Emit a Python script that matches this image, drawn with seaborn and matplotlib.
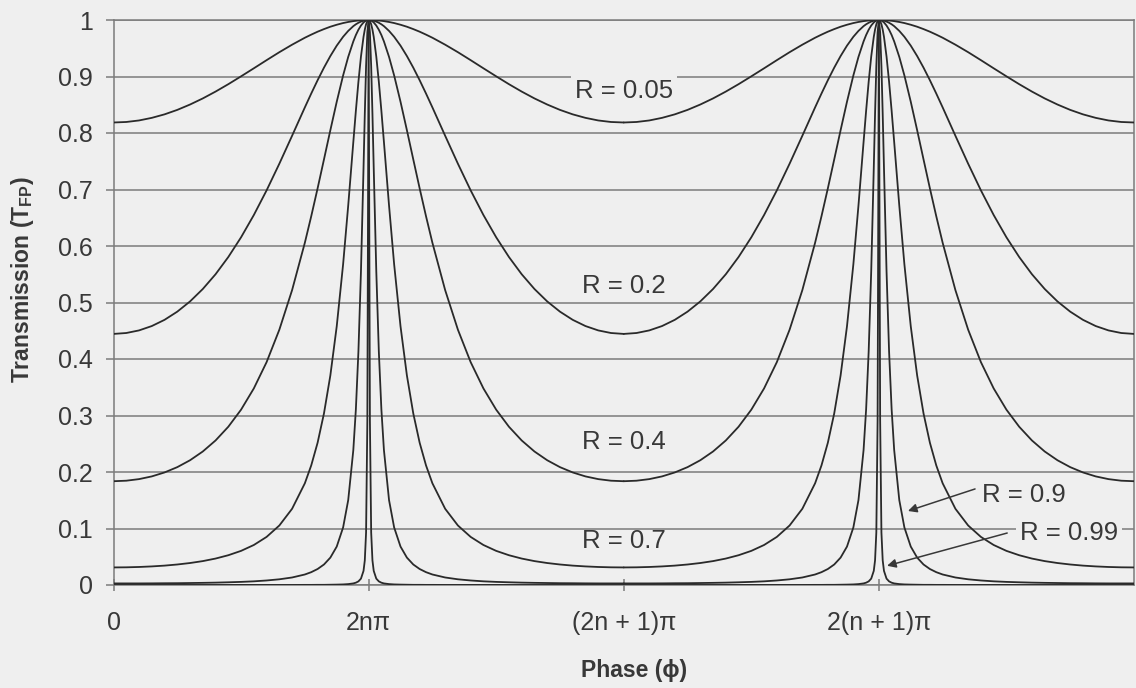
import numpy as np
import pandas as pd
import matplotlib
matplotlib.use("Agg")
import matplotlib.pyplot as plt
import seaborn as sns

# ---------------- data ----------------
# phase offset from the nearest transmission peak, in units of pi
PHASE_OFFSET = [0, 0.005, 0.01, 0.015, 0.02, 0.03, 0.04, 0.05, 0.06, 0.08, 0.1,
                0.125, 0.15, 0.175, 0.2, 0.225, 0.25, 0.3, 0.35, 0.4, 0.45, 0.5,
                0.55, 0.6, 0.65, 0.7, 0.75, 0.8, 0.85, 0.9, 0.95, 1.0]
# transmission values at those offsets (one half-period; curves are symmetric)
T_R005 = [1.000, 1.000, 1.000, 1.000, 1.000, 0.9995, 0.9991, 0.9986, 0.998,
          0.9965, 0.9946, 0.9916, 0.9881, 0.9839, 0.9793, 0.9741, 0.9686,
          0.9563, 0.943, 0.9289, 0.9145, 0.9003, 0.8864, 0.8733, 0.8612,
          0.8504, 0.8409, 0.833, 0.8268, 0.8222, 0.8195, 0.8186]
T_R02 = [1.000, 0.9999, 0.9997, 0.9993, 0.9988, 0.9972, 0.9951, 0.9924, 0.9891,
         0.9807, 0.9703, 0.9546, 0.9362, 0.9157, 0.8934, 0.8698, 0.8453,
         0.7951, 0.7456, 0.6984, 0.6548, 0.6154, 0.5805, 0.55, 0.5239, 0.5019,
         0.4838, 0.4693, 0.4583, 0.4506, 0.446, 0.4444]
T_R04 = [1.000, 0.9997, 0.9989, 0.9975, 0.9956, 0.9902, 0.9828, 0.9734, 0.9621,
         0.9347, 0.9019, 0.8553, 0.805, 0.7533, 0.702, 0.6526, 0.6057, 0.5219,
         0.4518, 0.3944, 0.3479, 0.3103, 0.2801, 0.2558, 0.2363, 0.2208,
         0.2086, 0.1992, 0.1922, 0.1874, 0.1846, 0.1837]
T_R07 = [1.000, 0.9981, 0.9924, 0.983, 0.9702, 0.9354, 0.8907, 0.8393, 0.784,
         0.6717, 0.5677, 0.4579, 0.371, 0.3037, 0.2518, 0.2116, 0.18, 0.1349,
         0.1053, 0.0851, 0.0708, 0.0604, 0.0527, 0.0468, 0.0423, 0.0389,
         0.0363, 0.0343, 0.0329, 0.0319, 0.0313, 0.0311]
T_R09 = [1.000, 0.9783, 0.9184, 0.8334, 0.7379, 0.5559, 0.4133, 0.3109, 0.2388,
         0.1503, 0.1019, 0.068, 0.0485, 0.0363, 0.0283, 0.0227, 0.0186, 0.0133,
         0.0101, 0.008, 0.0065, 0.0055, 0.0048, 0.0042, 0.0038, 0.0035, 0.0032,
         0.0031, 0.0029, 0.0028, 0.0028, 0.0028]
T_R099 = [1.000, 0.2905, 0.0929, 0.0435, 0.025, 0.0113, 0.0064, 0.0041, 0.0028,
          0.0016, 0.001, 0.0007, 0.0005, 0.0003, 0.0003, 0.0002, 0.0002, 0.0001,
          0.0001, 0.0001, 0.0001, 0.0001, 0.0, 0.0, 0.0, 0.0, 0.0, 0.0, 0.0,
          0.0, 0.0, 0.0]

R_LABELS = ["R = 0.05", "R = 0.2", "R = 0.4", "R = 0.7", "R = 0.9", "R = 0.99"]
CURVES = [T_R005, T_R02, T_R04, T_R07, T_R09, T_R099]

PEAK_POSITIONS = [1, 3]          # 2nπ and 2(n+1)π, in units of π
X_TICKS = [0, 1, 2, 3]
X_TICK_LABELS = ["0", "2nπ", "(2n + 1)π", "2(n + 1)π"]
Y_TICKS = [0, 0.1, 0.2, 0.3, 0.4, 0.5, 0.6, 0.7, 0.8, 0.9, 1.0]
Y_TICK_LABELS = ["0", "0.1", "0.2", "0.3", "0.4", "0.5", "0.6", "0.7", "0.8", "0.9", "1"]

# ---------------- build long-form table ----------------
rows = []
d = np.array(PHASE_OFFSET)
for label, vals in zip(R_LABELS, CURVES):
    v = np.array(vals)
    for pk in PEAK_POSITIONS:
        xs = np.concatenate([pk - d[::-1], pk + d[1:]])
        ys = np.concatenate([v[::-1], v[1:]])
        for xx, yy in zip(xs, ys):
            rows.append((label, pk, xx, yy))
df = pd.DataFrame(rows, columns=["R", "peak", "phase", "T"])
df = df[(df.phase >= 0) & (df.phase <= 4)]

# ---------------- style ----------------
BG = "#efefef"
INK = "#383838"
GRID = "#7c7c7c"
CURVE = "#2a2a2a"

sns.set_theme(style="white")
plt.rcParams["font.family"] = ["Liberation Sans", "DejaVu Sans"]
plt.rcParams["mathtext.fontset"] = "custom"
plt.rcParams["mathtext.rm"] = "Liberation Sans"
plt.rcParams["mathtext.bf"] = "Liberation Sans:bold"

W, H = 1136, 688
fig = plt.figure(figsize=(W / 100, H / 100), dpi=100, facecolor=BG)
L, R_, T_, B = 113.5, 1134, 20, 585
ax = fig.add_axes([L / W, 1 - B / H, (R_ - L) / W, (B - T_) / H])
ax.set_facecolor(BG)

for label in R_LABELS:
    for pk in PEAK_POSITIONS:
        sub = df[(df.R == label) & (df.peak == pk)]
        sns.lineplot(data=sub, x="phase", y="T", ax=ax, color=CURVE,
                     linewidth=1.3, estimator=None, sort=False, legend=False,
                     zorder=3)

ax.set_xlim(0, 4)
ax.set_ylim(0, 1)
ax.set_yticks(Y_TICKS)
ax.set_yticklabels(Y_TICK_LABELS)
ax.set_xticks(X_TICKS)
ax.set_xticklabels(X_TICK_LABELS)
ax.yaxis.grid(True, color=GRID, linewidth=1.1, zorder=1)
ax.xaxis.grid(False)
ax.set_axisbelow(True)

for sp in ax.spines.values():
    sp.set_visible(True)
    sp.set_color(GRID)
    sp.set_linewidth(1.1)

ax.tick_params(axis="y", direction="out", length=6, width=1.1, color=GRID,
               pad=9, labelsize=18, labelcolor=INK, left=True)
ax.tick_params(axis="x", direction="inout", length=9, width=1.1, color=GRID,
               pad=14, labelsize=18, labelcolor=INK, bottom=True)

ax.set_ylabel("Transmission (T$_{\\mathbf{FP}}$)", fontsize=16.5,
              fontweight="bold", color=INK)
ax.yaxis.label.set_verticalalignment("center")
ax.yaxis.label.set_horizontalalignment("center")
ax.yaxis.set_label_coords((23 - L) / (R_ - L), (B - 280) / (B - T_))
ax.set_xlabel("Phase (ϕ)", fontsize=16.5, fontweight="bold", color=INK)
ax.xaxis.label.set_verticalalignment("center")
ax.xaxis.set_label_coords((634 - L) / (R_ - L), (B - 671) / (B - T_))

box = dict(facecolor=BG, edgecolor="none", pad=3)
FS = 18.5
ax.text(2.0, 0.862, "R = 0.05", ha="center", va="baseline", fontsize=FS,
        color=INK, bbox=box, zorder=4)
ax.text(2.0, 0.516, "R = 0.2", ha="center", va="baseline", fontsize=FS,
        color=INK, zorder=4)
ax.text(2.0, 0.241, "R = 0.4", ha="center", va="baseline", fontsize=FS,
        color=INK, zorder=4)
ax.text(2.0, 0.0656, "R = 0.7", ha="center", va="baseline", fontsize=FS,
        color=INK, zorder=4)
ax.text(3.405, 0.147, "R = 0.9", ha="left", va="baseline", fontsize=FS,
        color=INK, bbox=box, zorder=4)
ax.text(3.553, 0.0796, "R = 0.99", ha="left", va="baseline", fontsize=FS,
        color=INK, bbox=box, zorder=4)

arrow = dict(arrowstyle="-|>", color=INK, lw=1.1, mutation_scale=13,
             shrinkA=0, shrinkB=0)
ax.annotate("", xy=(3.114, 0.131), xytext=(3.377, 0.170), arrowprops=arrow,
            zorder=5)
ax.annotate("", xy=(3.032, 0.034), xytext=(3.503, 0.092), arrowprops=arrow,
            zorder=5)

fig.savefig("out.png", dpi=100, facecolor=BG)
